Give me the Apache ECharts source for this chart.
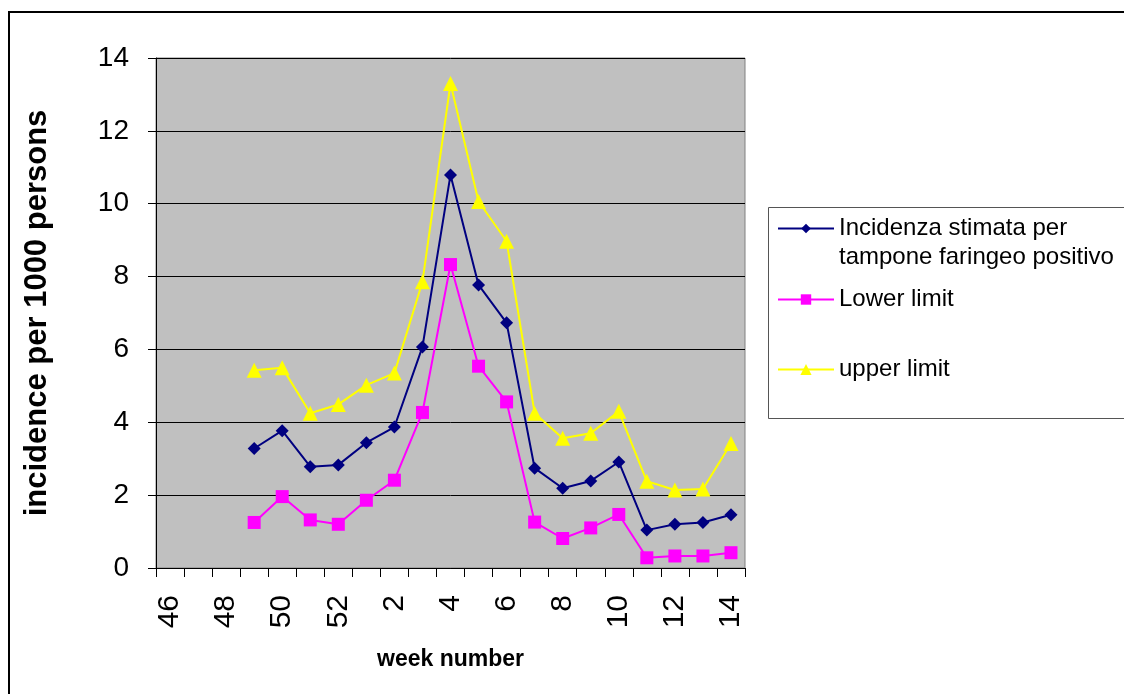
<!DOCTYPE html>
<html>
<head>
<meta charset="utf-8">
<script src="https://cdn.jsdelivr.net/npm/echarts@6/dist/echarts.min.js"></script>
<style>html,body{margin:0;padding:0;background:#fff}#c{width:1124px;height:694px}</style>
</head>
<body>
<div id="c"></div>
<script>
var weeks = ['46','47','48','49','50','51','52','1','2','3','4','5','6','7','8','9','10','11','12','13','14'];
var incidenza = [null,null,null,3.28,3.77,2.78,2.83,3.44,3.87,6.07,10.79,7.77,6.73,2.74,2.19,2.39,2.91,1.04,1.20,1.25,1.46];
var lowerLimit = [null,null,null,1.25,1.96,1.32,1.20,1.86,2.41,4.27,8.33,5.54,4.56,1.26,0.81,1.10,1.47,0.28,0.33,0.33,0.42];
var upperLimit = [null,null,null,5.43,5.50,4.25,4.49,5.02,5.35,7.86,13.30,10.06,8.97,4.25,3.56,3.70,4.30,2.38,2.14,2.17,3.42];
var seriesNames = ['Incidenza stimata per\ntampone faringeo positivo','Lower limit','upper limit'];
var yTitle = 'incidence per 1000 persons';
var xTitle = 'week number';

var chart = echarts.init(document.getElementById('c'), null, {renderer:'canvas'});
var FF = '"Liberation Sans", Arial, sans-serif';
function lt(){ return {fontFamily: FF, fontSize: 24, color: '#000', lineHeight: 29}; }
chart.setOption({
  animation: false,
  backgroundColor: '#fff',
  graphic: [
    {type:'rect', shape:{x:9,y:12,width:1140,height:700}, style:{fill:'none', stroke:'#000', lineWidth:2}, silent:true},
    {type:'rect', shape:{x:768.5,y:207.5,width:380,height:211}, style:{fill:'#fff', stroke:'#555', lineWidth:1}, silent:true, z:-1}
  ],
  grid: {left:156, right:379, top:58, bottom:126, show:true, backgroundColor:'#C0C0C0', borderColor:'#808080', borderWidth:1},
  legend: [
    {data:[seriesNames[0]], left:777, top:185, orient:'vertical', itemWidth:56, itemHeight:12, itemGap:0, padding:0,
     formatter:function(n){ return '\n' + n; }, textStyle:lt()},
    {data:[seriesNames[1]], left:777, top:285, orient:'vertical', itemWidth:56, itemHeight:13, padding:0, textStyle:lt()},
    {data:[seriesNames[2]], left:777, top:355, orient:'vertical', itemWidth:56, itemHeight:14, padding:0, textStyle:lt()}
  ],
  xAxis: {
    type:'category', data: weeks, boundaryGap: true,
    name: xTitle, nameLocation:'middle', nameGap: 80,
    nameTextStyle:{fontFamily:FF, fontSize:23, fontWeight:'bold', color:'#000'},
    axisLine:{lineStyle:{color:'#000', width:1}},
    axisTick:{show:true, interval:0, alignWithLabel:false, length:9, lineStyle:{color:'#000'}},
    axisLabel:{interval:1, rotate:90, margin:27, fontFamily:FF, fontSize:30, color:'#000'},
    splitLine:{show:false}
  },
  yAxis: {
    type:'value', min:0, max:14, interval:2,
    name: yTitle, nameLocation:'middle', nameGap: 103,
    nameTextStyle:{fontFamily:FF, fontSize:31, fontWeight:'bold', color:'#000'},
    axisLine:{show:true, lineStyle:{color:'#000', width:1}},
    axisTick:{show:true, length:8, lineStyle:{color:'#000'}},
    axisLabel:{margin:27, fontFamily:FF, fontSize:28, color:'#000'},
    splitLine:{show:true, lineStyle:{color:'#000', width:1}}
  },
  series: [
    {name: seriesNames[0], type:'line', data: incidenza, symbol:'diamond', symbolSize:13,
     itemStyle:{color:'#000080'}, lineStyle:{color:'#000080', width:2}},
    {name: seriesNames[1], type:'line', data: lowerLimit, symbol:'rect', symbolSize:13,
     itemStyle:{color:'#FF00FF'}, lineStyle:{color:'#FF00FF', width:2}},
    {name: seriesNames[2], type:'line', data: upperLimit, symbol:'triangle', symbolSize:15,
     itemStyle:{color:'#FFFF00'}, lineStyle:{color:'#FFFF00', width:2}}
  ]
});
</script>
</body>
</html>
